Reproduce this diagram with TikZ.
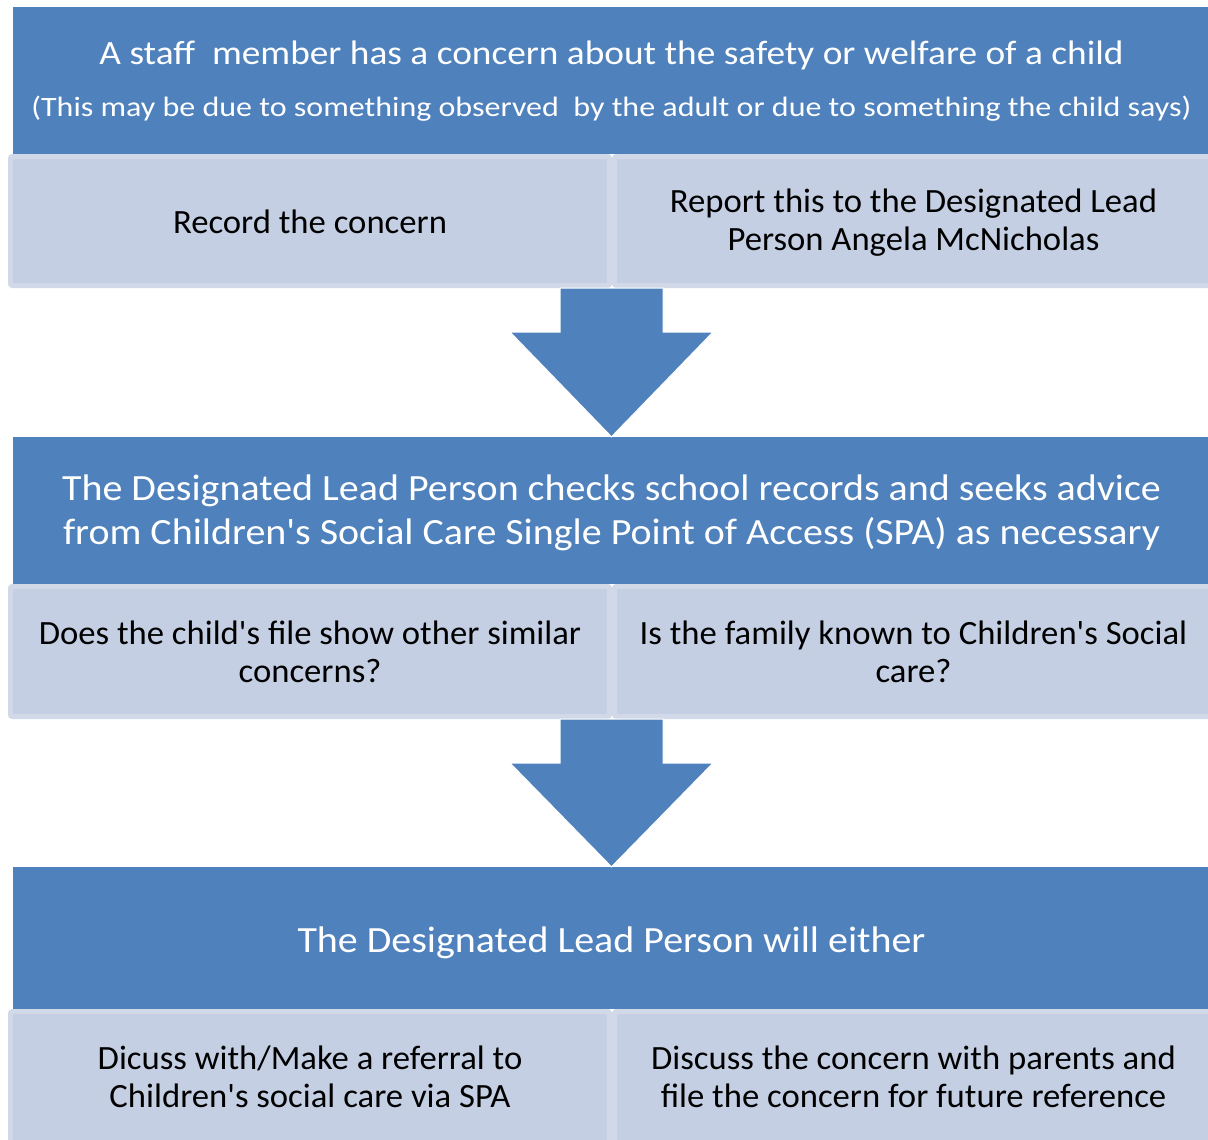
\documentclass[tikz,border=0pt]{standalone}
\usepackage{fontspec}
\setmainfont{Carlito}
\newfontfamily\fontA{Carlito}[FakeStretch=1.098]
\newfontfamily\fontB{Carlito}[FakeStretch=1.143]
\newfontfamily\fontC{Carlito}[FakeStretch=1.08]
\newfontfamily\fontD{Carlito}[FakeStretch=1.02]
\usetikzlibrary{calc}
\definecolor{boxblue}{RGB}{79,129,189}
\definecolor{lightfill}{RGB}{196,207,227}
\definecolor{lightedge}{RGB}{209,217,232}
\tikzset{
  bluebox/.style={rectangle, fill=boxblue, draw=none, inner sep=0pt, minimum width=1197pt},
  lightbox/.style={rectangle, fill=lightfill, draw=lightedge, line width=5pt, rounded corners=2pt, inner sep=0pt},
  whitetext/.style={text=white, align=center, inner sep=0pt},
  darktext/.style={text=black, align=center, inner sep=0pt, font=\fontD\fontsize{34}{38}\selectfont},
  blockarrow/.style={fill=boxblue, draw=white, line width=1pt, line join=miter}
}
\newcommand{\myblockarrow}[2]{%
  \path[blockarrow] let \p1=(#1), \p2=(#2) in
    (\x2-51.5pt,\y1) -- (\x2+51.5pt,\y1) -- (\x2+51.5pt,\y1-44pt) -- (\x2+101.5pt,\y1-44pt)
    -- (\x2,\y2) -- (\x2-101.5pt,\y1-44pt) -- (\x2-51.5pt,\y1-44pt) -- cycle;}
\newcommand{\apos}{\char"0027\relax}
\begin{document}
\begin{tikzpicture}[x=1pt,y=-1pt]
\useasboundingbox (0,0) rectangle (1208,1140);
\clip (0,0) rectangle (1208,1140);
\fill[white] (0,0) rectangle (1208,1140);

% top block
\node[bluebox, minimum height=147pt] (b1) at (611.5,80.5) {};
\node[whitetext, font=\fontA\fontsize{34}{40}\selectfont, anchor=base] (b1t1) at (611.5,65) {A staff\ \ member has a concern about the safety or welfare of a child};
\node[whitetext, font=\fontB\fontsize{28}{34}\selectfont, anchor=base] (b1t2) at (611.5,116) {(This may be due to something observed\ \ by the adult or due to something the child says)};
\node[lightbox, minimum width=599pt, minimum height=129pt] (r1l) at (310,221) {};
\node[lightbox, minimum width=598pt, minimum height=129pt] (r1r) at (913.5,221) {};
\node[darktext] (r1lt) at ($(r1l.center)+(0,1)$) {Record the concern};
\node[darktext] (r1rt) at ($(r1r.center)+(0,2)$) {Report this to the Designated Lead\\Person Angela McNicholas};

% middle block
\node[bluebox, minimum height=147pt] (b2) at (611.5,510.5) {};
\node[whitetext, font=\fontC\fontsize{37}{44}\selectfont] (b2t) at ($(b2.center)+(0,2)$) {The Designated Lead Person checks school records and seeks advice\\from Children\apos s Social Care Single Point of Access (SPA) as necessary};
\node[lightbox, minimum width=599pt, minimum height=130pt] (r2l) at (310,651.5) {};
\node[lightbox, minimum width=598pt, minimum height=130pt] (r2r) at (913.5,651.5) {};
\node[darktext] (r2lt) at (r2l.center) {Does the child\apos s file show other similar\\concerns?};
\node[darktext] (r2rt) at (r2r.center) {Is the family known to Children\apos s Social\\care?};

% bottom block
\node[bluebox, minimum height=142pt] (b3) at (611.5,938) {};
\node[whitetext, font=\fontC\fontsize{37}{44}\selectfont] (b3t) at ($(b3.center)+(0,5)$) {The Designated Lead Person will either};
\node[lightbox, minimum width=599pt, minimum height=131pt] (r3l) at (310,1077) {};
\node[lightbox, minimum width=598pt, minimum height=131pt] (r3r) at (913.5,1077) {};
\node[darktext] (r3lt) at (r3l.center) {Dicuss with/Make a referral to\\Children\apos s social care via SPA};
\node[darktext] (r3rt) at (r3r.center) {Discuss the concern with parents and\\file the concern for future reference};

% block arrows
\myblockarrow{r1r.south west}{b2.north}
\myblockarrow{r2r.south west}{b3.north}
\end{tikzpicture}
\end{document}
